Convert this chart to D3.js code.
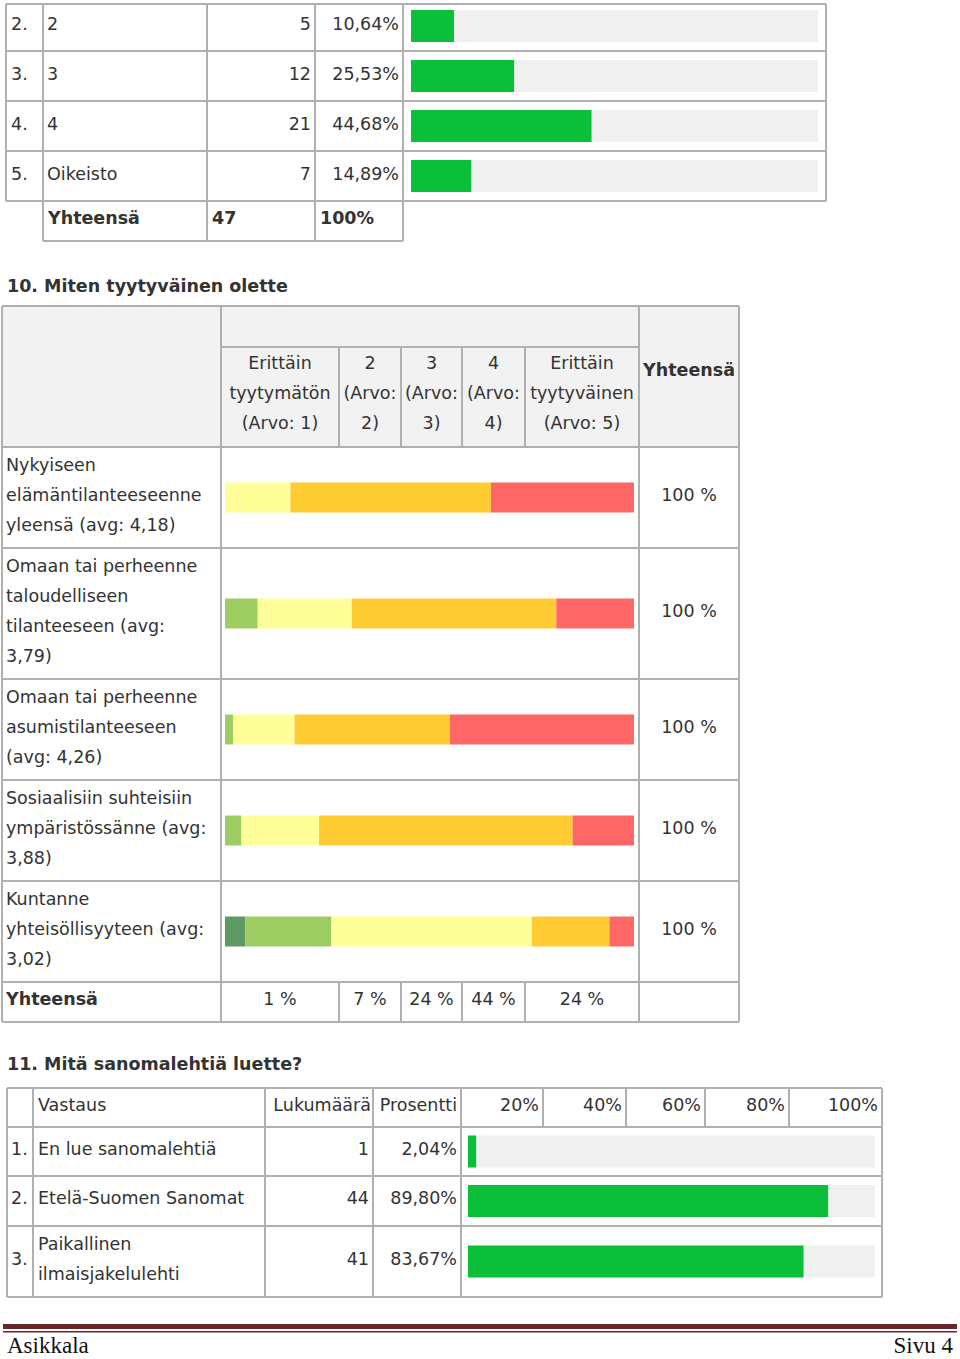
<!DOCTYPE html>
<html>
<head>
<meta charset="utf-8">
<script src="https://cdn.jsdelivr.net/npm/d3@7"></script>
<style>
  body { margin: 0; background: #fff; }
  text { font-family: "DejaVu Sans", Verdana, sans-serif; font-size: 17.5px; fill: #333; }
  .bold { font-weight: bold; }
  .serif { font-family: "Liberation Serif", "DejaVu Serif", serif; font-size: 23px; fill: #111; }
</style>
</head>
<body>
<svg id="chart" width="960" height="1359"></svg>
<script>
// --- data: question 9 (continued from previous page) ---
const q9Nums = ["2.", "3.", "4.", "5."];
const q9Answers = ["2", "3", "4", "Oikeisto"];
const q9Counts = [5, 12, 21, 7];
const q9Percents = [10.64, 25.53, 44.68, 14.89];
const q9Total = ["Yhteensä", "47", "100%"];

// --- data: question 10 ---
const q10Title = "10. Miten tyytyväinen olette";
const q10Columns = [
    ["Erittäin", "tyytymätön", "(Arvo: 1)"],
    ["2", "(Arvo:", "2)"],
    ["3", "(Arvo:", "3)"],
    ["4", "(Arvo:", "4)"],
    ["Erittäin", "tyytyväinen", "(Arvo: 5)"]
];
const q10Rows = [
    ["Nykyiseen", "elämäntilanteeseenne", "yleensä (avg: 4,18)"],
    ["Omaan tai perheenne", "taloudelliseen", "tilanteeseen (avg:", "3,79)"],
    ["Omaan tai perheenne", "asumistilanteeseen", "(avg: 4,26)"],
    ["Sosiaalisiin suhteisiin", "ympäristössänne (avg:", "3,88)"],
    ["Kuntanne", "yhteisöllisyyteen (avg:", "3,02)"]
];
// share (%) of answers 1..5 per row
const q10Shares = [
    [0, 0, 16, 49, 35],
    [0, 8, 23, 50, 19],
    [0, 2, 15, 38, 45],
    [0, 4, 19, 62, 15],
    [5, 21, 49, 19, 6]
];
const q10RowTotals = ["100 %", "100 %", "100 %", "100 %", "100 %"];
const q10ColumnTotals = ["1 %", "7 %", "24 %", "44 %", "24 %"];
const q10Colors = ["#5f9a62", "#9dcd62", "#ffff99", "#ffcc33", "#ff6666"];

// --- data: question 11 ---
const q11Title = "11. Mitä sanomalehtiä luette?";
const q11Nums = ["1.", "2.", "3."];
const q11Answers = [["En lue sanomalehtiä"], ["Etelä-Suomen Sanomat"], ["Paikallinen", "ilmaisjakelulehti"]];
const q11Counts = [1, 44, 41];
const q11Percents = [2.04, 89.80, 83.67];
const q11Ticks = ["20%", "40%", "60%", "80%", "100%"];

const footerLeft = "Asikkala";
const footerRight = "Sivu 4";

// --- drawing ---
const svg = d3.select("#chart");
const lineColor = "#b0b0b0";
const barGreen = "#0bbf3b";
const barBack = "#f0f0f0";
const headBack = "#f2f2f2";
const fmtPct = v => d3.format(".2f")(v).replace(".", ",") + "%";

function rect(x1, y1, x2, y2, fill) {
    svg.append("rect").attr("x", x1).attr("y", y1)
        .attr("width", x2 - x1).attr("height", y2 - y1).attr("fill", fill);
}
function hline(x1, x2, y) {
    svg.append("line").attr("x1", x1).attr("x2", x2).attr("y1", y).attr("y2", y)
        .attr("stroke", lineColor).attr("stroke-width", 2);
}
function vline(x, y1, y2) {
    svg.append("line").attr("x1", x).attr("x2", x).attr("y1", y1).attr("y2", y2)
        .attr("stroke", lineColor).attr("stroke-width", 2);
}
function label(x, y, str, anchor, cls) {
    return svg.append("text").attr("x", x).attr("y", y).attr("dy", "0.36em")
        .attr("text-anchor", anchor || "start").attr("class", cls || null).text(str);
}

// ===== table for question 9 =====
const colsA = [6, 43, 207, 315, 403, 826];
const rowH_A = 50;
const topA = 1;
const xA = d3.scaleLinear().domain([0, 100]).range([411, 815]);

q9Nums.forEach((n, i) => {
    const y0 = topA + i * rowH_A;
    const cy = y0 + rowH_A / 2;
    label(11, cy - 2, n);
    label(47, cy - 2, q9Answers[i]);
    label(colsA[3] - 4, cy - 2, q9Counts[i], "end");
    label(colsA[4] - 4, cy - 2, fmtPct(q9Percents[i]), "end");
    rect(411, cy - 16, 818, cy + 16, barBack);
    rect(xA(0), cy - 16, xA(q9Percents[i]), cy + 16, barGreen);
});
const endA = topA + q9Nums.length * rowH_A;
hline(colsA[0], colsA[5], 4);
d3.range(1, q9Nums.length + 1).forEach(i => hline(colsA[0], colsA[5], topA + i * rowH_A));
colsA.forEach(x => vline(x, 4, endA));
// total row
const totA = endA + 40;
hline(colsA[1], colsA[4], totA);
[1, 2, 3, 4].forEach(c => vline(colsA[c], endA, totA));
q9Total.forEach((t, i) => label(colsA[i + 1] + 5, (endA + totA) / 2 - 3, t, "start", "bold"));

// ===== table for question 10 =====
label(7, 286, q10Title, "start", "bold");
const leftB = 2, labelB = 221, totalB = 639, rightB = 739;
const subColsB = [221, 339, 401, 462, 525, 639];
const topB = 306, subTopB = 347, headEndB = 447;
const lineH = 30;
const xB = d3.scaleLinear().domain([0, 100]).range([225, 634]);

rect(leftB, topB, rightB, headEndB, headBack);
q10Columns.forEach((lines, c) => {
    const cx = (subColsB[c] + subColsB[c + 1]) / 2;
    lines.forEach((t, k) => label(cx, 363 + k * lineH, t, "middle"));
});
label((totalB + rightB) / 2, 370, "Yhteensä", "middle", "bold");

// data rows
let yB = headEndB;
const rowTopsB = [];
q10Rows.forEach((lines, r) => {
    const h = lines.length * lineH + 11;
    rowTopsB.push(yB);
    const cy = yB + h / 2;
    lines.forEach((t, k) => label(6, cy + (k - (lines.length - 1) / 2) * lineH - 3, t));
    // stacked bar
    let acc = 0;
    q10Shares[r].forEach((v, k) => {
        if (v > 0) rect(xB(acc), cy - 15, xB(acc + v), cy + 15, q10Colors[k]);
        acc += v;
    });
    label((totalB + rightB) / 2, cy - 3, q10RowTotals[r], "middle");
    yB += h;
});
const footTopB = yB, footEndB = yB + 40;
label(6, (footTopB + footEndB) / 2 - 3, "Yhteensä", "start", "bold");
q10ColumnTotals.forEach((t, c) => {
    label((subColsB[c] + subColsB[c + 1]) / 2, (footTopB + footEndB) / 2 - 3, t, "middle");
});

// grid lines for question 10
hline(leftB, rightB, topB);
hline(labelB, totalB, subTopB);
hline(leftB, rightB, headEndB);
rowTopsB.slice(1).forEach(y => hline(leftB, rightB, y));
hline(leftB, rightB, footTopB);
hline(leftB, rightB, footEndB);
[leftB, labelB, totalB, rightB].forEach(x => vline(x, topB, footEndB));
subColsB.slice(1, -1).forEach(x => {
    vline(x, subTopB, headEndB);
    vline(x, footTopB, footEndB);
});

// ===== table for question 11 =====
label(7, 1064, q11Title, "start", "bold");
const colsC = [7, 33, 265, 373, 461, 882];
const tickEdgesC = [461, 543, 626, 705, 789, 882];
const headTopC = 1088, headEndC = 1127;
const rowHeightsC = [49, 50, 71];
const xC = d3.scaleLinear().domain([0, 100]).range([468, 869]);

const headCy = (headTopC + headEndC) / 2 - 3;
label(38, headCy, "Vastaus");
label(colsC[3] - 2, headCy, "Lukumäärä", "end");
label(colsC[4] - 4, headCy, "Prosentti", "end");
q11Ticks.forEach((t, i) => label(tickEdgesC[i + 1] - 4, headCy, t, "end"));

let yC = headEndC;
const rowTopsC = [];
q11Answers.forEach((lines, r) => {
    const h = rowHeightsC[r];
    rowTopsC.push(yC);
    const cy = yC + h / 2;
    label(colsC[0] + 4, cy - 3, q11Nums[r]);
    lines.forEach((t, k) => label(38, cy + (k - (lines.length - 1) / 2) * lineH - 3, t));
    label(colsC[3] - 4, cy - 3, q11Counts[r], "end");
    label(colsC[4] - 4, cy - 3, fmtPct(q11Percents[r]), "end");
    rect(468, cy - 16, 875, cy + 16, barBack);
    rect(xC(0), cy - 16, xC(q11Percents[r]), cy + 16, barGreen);
    yC += h;
});
const endC = yC;
hline(colsC[0], colsC[5], headTopC);
hline(colsC[0], colsC[5], headEndC);
rowTopsC.slice(1).forEach(y => hline(colsC[0], colsC[5], y));
hline(colsC[0], colsC[5], endC);
colsC.forEach(x => vline(x, headTopC, endC));
tickEdgesC.slice(1, -1).forEach(x => vline(x, headTopC, headEndC));

// ===== page footer =====
svg.append("rect").attr("x", 3).attr("y", 1324).attr("width", 954).attr("height", 5).attr("fill", "#6b2727");
svg.append("rect").attr("x", 3).attr("y", 1331).attr("width", 954).attr("height", 1.5).attr("fill", "#6b2727");
svg.append("text").attr("class", "serif").attr("x", 7).attr("y", 1353).text(footerLeft);
svg.append("text").attr("class", "serif").attr("x", 953).attr("y", 1353)
    .attr("text-anchor", "end").text(footerRight);
</script>
</body>
</html>
